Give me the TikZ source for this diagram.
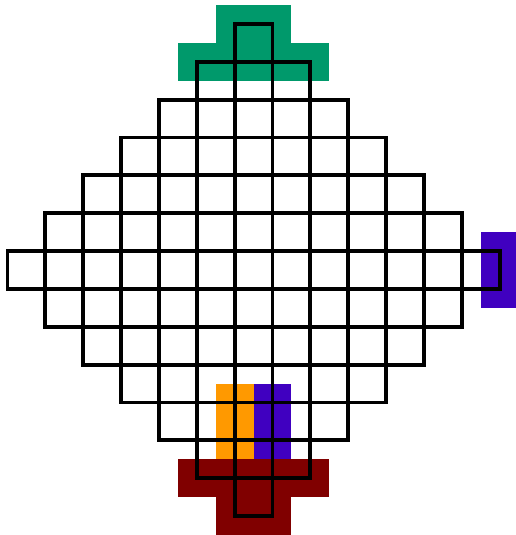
\documentclass[tikz,border=0pt]{standalone}
\definecolor{cgreen}{RGB}{0,153,107}
\definecolor{cred}{RGB}{128,0,0}
\definecolor{corange}{RGB}{255,153,0}
\definecolor{cpurple}{RGB}{64,0,192}
\tikzset{cellbox/.style={draw=black,line width=2.9pt,line join=miter}}
\begin{document}
\begin{tikzpicture}[x=1cm,y=1cm]
\useasboundingbox (-0.198,0.634) rectangle (13.417,-13.5);
% coloured patches
\fill[cgreen] (5.5,0.5) rectangle (7.5,-0.5);
\fill[cgreen] (4.5,-0.5) rectangle (8.5,-1.5);
\fill[cred] (4.5,-11.5) rectangle (8.5,-12.5);
\fill[cred] (5.5,-12.5) rectangle (7.5,-13.5);
\fill[corange] (5.5,-9.5) rectangle (6.5,-11.5);
\fill[cpurple] (6.5,-9.5) rectangle (7.5,-11.5);
\fill[cpurple] (12.5,-5.5) rectangle (13.5,-7.5);
% diamond grid
\foreach \r in {0,...,12}{
  \pgfmathtruncatemacro{\d}{abs(\r-6)}
  \pgfmathtruncatemacro{\a}{\d}
  \pgfmathtruncatemacro{\b}{12-\d}
  \foreach \c in {\a,...,\b}{
    \draw[cellbox] (\c,-\r) rectangle ++(1,-1);
  }
}
\end{tikzpicture}
\end{document}
